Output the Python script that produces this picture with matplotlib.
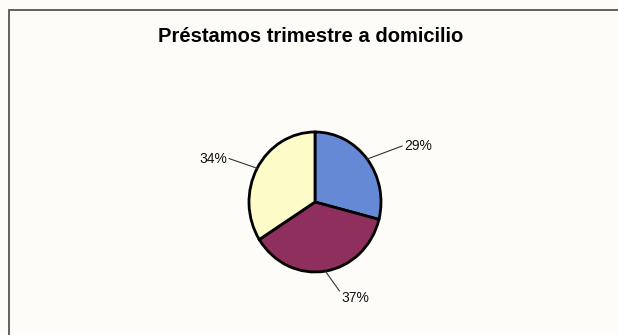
import matplotlib.pyplot as plt
from matplotlib.patches import Rectangle
import numpy as np

labels = ["29%", "37%", "34%"]
values = [29, 37, 34]
colors = ["#6689d6", "#8e2f5e", "#fdfcc8"]

W, H = 618, 335
cx, cy = 315, 202      # pie centre in pixels
rx, ry = 66, 70        # pie radii in pixels (scan is slightly stretched)

fig = plt.figure(figsize=(W / 100, H / 100), dpi=100)
fig.patch.set_facecolor("#fdfcf9")

# outer chart frame (cut by the right and bottom edges)
fig.patches.append(Rectangle((9 / W, -0.05), 1.1, 1 - 10 / H + 0.05,
                             transform=fig.transFigure, fill=False,
                             edgecolor="#555555", linewidth=1.3))

fig.text(311 / W, 1 - 36 / H, "Préstamos trimestre a domicilio",
         ha="center", va="center", fontsize=14.5, fontweight="bold",
         family="Liberation Sans")

ax = fig.add_axes([0, 0, 1, 1])
wedges, _ = ax.pie(values, colors=colors, startangle=90, counterclock=False,
                   wedgeprops=dict(edgecolor="black", linewidth=2))
ax.set_aspect("auto")
ax.set_xlim(-cx / rx, (W - cx) / rx)
ax.set_ylim(-(H - cy) / ry, cy / ry)
ax.axis("off")

# leader line end points and text alignment for each label
ends = [(1.32, 0.80), (0.37, -1.27), (-1.30, 0.62)]
aligns = [("left", "center"), ("left", "top"), ("right", "center")]
for w, lab, (ex, ey), (ha, va) in zip(wedges, labels, ends, aligns):
    ang = np.deg2rad((w.theta1 + w.theta2) / 2)
    sx, sy = np.cos(ang), np.sin(ang)
    ax.plot([sx, ex], [sy, ey], color="#333333", linewidth=0.8)
    tx = ex + (0.03 if ha == "left" else -0.03)
    ax.text(tx, ey, lab, ha=ha, va=va, fontsize=10, family="Liberation Sans",
            color="#111111")

fig.savefig("out.png", dpi=100, facecolor=fig.get_facecolor())
